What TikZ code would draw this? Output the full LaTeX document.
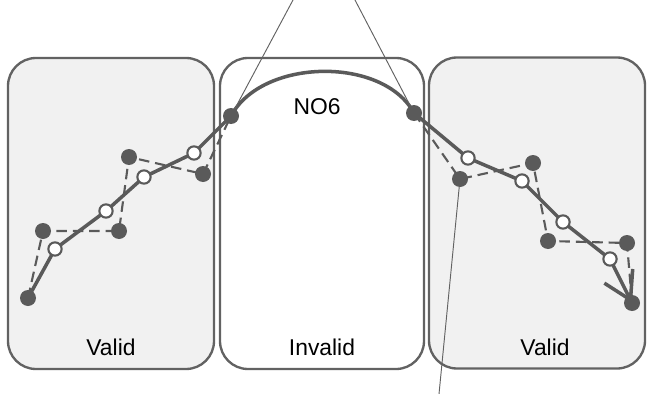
\documentclass[tikz,border=0pt]{standalone}
\usepackage{fontspec}
\setmainfont{Liberation Sans}
\usetikzlibrary{arrows.meta}
\pgfdeclarelayer{back}
\pgfdeclarelayer{mid}
\pgfsetlayers{back,mid,main}
\definecolor{edge}{RGB}{98,98,98}
\definecolor{ink}{RGB}{90,90,90}
\definecolor{pane}{RGB}{241,241,241}

\begin{document}
\begin{tikzpicture}[x=0.03cm, y=-0.03cm,
	box/.style={draw=edge, line width=2pt, rounded corners=0.84cm, minimum height=9.33cm},
	full/.style={circle, fill=ink, inner sep=0pt, minimum size=0.48cm},
	hollow/.style={circle, draw=ink, fill=white, line width=1.8pt, inner sep=0pt, minimum size=0.4cm},
	track/.style={draw=ink, line width=3pt, line join=round},
	jump/.style={draw=ink, line width=1.8pt, dash pattern=on 9pt off 5pt},
	pointer/.style={draw=edge, line width=0.8pt},
	lbl/.style={font=\fontsize{19.5}{22}\selectfont}]
	\useasboundingbox (0, 0) rectangle (647, 394);
	% panes
	\begin{pgfonlayer}{back}
		\node (leftbox) [box, fill=pane, minimum width=6.18cm] at (111, 213.5) {};
		\node (midbox) [box, fill=white, minimum width=6.12cm] at (322, 213.5) {};
		\node (rightbox) [box, fill=pane, minimum width=6.48cm] at (537, 213) {};
	\end{pgfonlayer}
	\node (validl) [lbl] at (111, 347) {Valid};
	\node (invalid) [lbl] at (322, 347) {Invalid};
	\node (validr) [lbl] at (545, 347) {Valid};
	\node (no) [lbl] at (317, 107) {NO6};
	% sampled points
	\node (f1) [full] at (28, 298) {};
	\node (f2) [full] at (43, 231) {};
	\node (f3) [full] at (119, 231) {};
	\node (f4) [full] at (129, 157) {};
	\node (f5) [full] at (203, 174) {};
	\node (p1) [full] at (231, 116) {};
	\node (p2) [full] at (414, 113) {};
	\node (f6) [full] at (460, 179) {};
	\node (f7) [full] at (533, 163) {};
	\node (f8) [full] at (548, 241) {};
	\node (f9) [full] at (627, 243) {};
	\node (f10) [full] at (632, 303) {};
	% smoothed points
	\node (o1) [hollow] at (55, 249) {};
	\node (o2) [hollow] at (106, 211) {};
	\node (o3) [hollow] at (144, 177) {};
	\node (o4) [hollow] at (194, 153) {};
	\node (o5) [hollow] at (468, 158) {};
	\node (o6) [hollow] at (522, 181) {};
	\node (o7) [hollow] at (563, 222) {};
	\node (o8) [hollow] at (610, 259) {};
	\coordinate (up1) at (293, 0);
	\coordinate (up2) at (355, 0);
	\coordinate (down) at (439, 394);
	\begin{pgfonlayer}{mid}
		\draw [jump] (f1.center) -- (f2.center) -- (f3.center) -- (f4.center) -- (f5.center) -- (p1.center);
		\draw [jump] (p2.center) -- (f6.center) -- (f7.center) -- (f8.center) -- (f9.center) -- (f10.center);
		\draw [track, -{Straight Barb[length=0.8cm, width=0.95cm]}] (f1.center) -- (o1.center) -- (o2.center) -- (o3.center) -- (o4.center) -- (p1.center)
			.. controls (262, 58) and (383, 56) .. (p2.center) -- (o5.center) -- (o6.center) -- (o7.center) -- (o8.center) -- (f10.center);
		\draw [pointer] (p1.center) -- (up1);
		\draw [pointer] (p2.center) -- (up2);
		\draw [pointer] (f6.center) -- (down);
	\end{pgfonlayer}
\end{tikzpicture}
\end{document}
